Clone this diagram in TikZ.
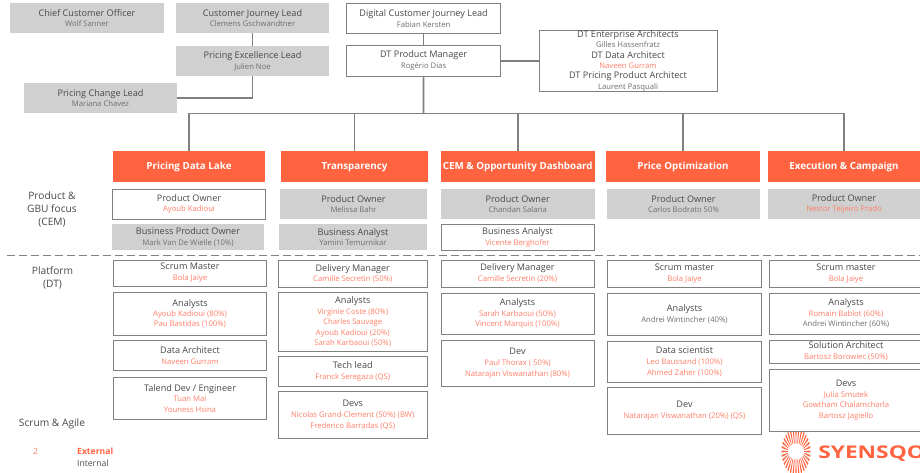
\documentclass[tikz,border=0pt]{standalone}
\usepackage{fontspec}
\setmainfont{Open Sans}
\definecolor{orng}{HTML}{FF6340}
\definecolor{lred}{HTML}{FF7F68}
\definecolor{dark}{HTML}{484848}
\definecolor{subg}{HTML}{6E6E6E}
\definecolor{gfill}{HTML}{D0D0D0}
\definecolor{edge}{HTML}{808080}
\newcommand\T[1]{{\fontsize{9.1}{10.8}\selectfont\color{dark}#1}}
\newcommand\G[1]{{\fontsize{7.7}{10.8}\selectfont\color{subg}#1}}
\newcommand\Rr[1]{{\fontsize{7.7}{10.8}\selectfont\color{lred}#1}}
\newcommand\bx[7][]{\node[#2,#1,minimum width={(#5-#3)*1pt},minimum height={(#6-#4)*1pt}] (#7) at ({(#3+#5)/2},{(#4+#6)/2})}
\tikzset{
  grey box/.style={fill=gfill,draw=none,inner sep=0pt,align=center,font=\fontsize{8}{10.8}\selectfont,execute at begin node={\rule{0pt}{8.4pt}}},
  white box/.style={fill=white,draw=edge,line width=0.9pt,inner sep=0pt,align=center,font=\fontsize{8}{10.8}\selectfont,execute at begin node={\rule{0pt}{8.4pt}}},
  tight/.style={font=\fontsize{8}{10.4}\selectfont},
  head box/.style={fill=orng,draw=none,inner sep=0pt,align=center,text=white,font=\fontsize{9.8}{10}\selectfont\bfseries,text height=8.5pt,text depth=1.5pt},
  link/.style={draw=edge,line width=1.7pt},
  side label/.style={align=center,inner sep=0pt,text=dark,font=\fontsize{10.2}{13}\selectfont},
}
\begin{document}
\begin{tikzpicture}[x=1pt,y=-1pt]
\useasboundingbox (0,0) rectangle (920,473);
\bx{grey box}{10}{3}{164}{33}{cco}{\T{Chief Customer Officer}\\\G{Wolf Sanner}};
\bx{grey box}{176}{3}{329}{33}{cjl}{\T{Customer Journey Lead}\\\G{Clemens Gschwandtner}};
\bx{grey box}{176}{46}{329}{76}{pel}{\T{Pricing Excellence Lead}\\\G{Julien Noe}};
\bx{grey box}{24}{83}{177}{113}{pcl}{\T{Pricing Change Lead}\\\G{Mariana Chavez}};
\bx{white box}{346.5}{3}{500.7}{33.5}{dcj}{\T{Digital Customer Journey Lead}\\\G{Fabian Kersten}};
\bx{white box}{346.5}{45.5}{500.7}{76}{dpm}{\T{DT Product Manager}\\\G{Rogério Dias}};
\bx[tight]{white box}{539}{30}{717}{91.5}{arch}{\T{DT Enterprise Architects}\\\G{Gilles Hassenfratz}\\\T{DT Data Architect}\\\Rr{Naveen Gurram}\\\T{DT Pricing Product Architect}\\\G{Laurent Pasquali}};
% headers
\bx{head box}{113}{151}{265}{182}{ha}{Pricing Data Lake};
\bx{head box}{281}{151}{428}{182}{hb}{Transparency};
\bx{head box}{441}{151}{594.5}{182}{hc}{CEM \& Opportunity Dashboard};
\bx{head box}{606}{151}{760}{182}{hd}{Price Optimization};
\bx{head box}{768}{151}{920}{182}{he}{Execution \& Campaign};
% connectors
\coordinate (bus) at (423.5,113.5);
\draw[link] (cjl.south) -- (pel.north);
\draw[link] (pel.south) |- (pcl.east);
\draw[link] (dcj.south) -- (dpm.north);
\draw[link] (dpm.east) -- (arch.west);
\draw[link] (dpm.south) -- (bus);
\draw[link] (ha.north) |- (bus) -| (he.north);
\draw[link] (hb.north) -- (hb.north |- bus);
\draw[link] (hc.north) -- (hc.north |- bus);
\draw[link] (hd.north) -- (hd.north |- bus);
% product owners
\bx{white box}{112.5}{189}{265.5}{219}{poa}{\T{Product Owner}\\\Rr{Ayoub Kadioui}};
\bx{grey box}{280}{189}{427}{219}{pob}{\T{Product Owner}\\\G{Melissa Bahr}};
\bx{grey box}{441}{189}{594.5}{219}{poc}{\T{Product Owner}\\\G{Chandan Salaria}};
\bx{grey box}{607}{189}{760}{219}{pod}{\T{Product Owner}\\\G{Carlos Bodrato 50\%}};
\bx{grey box}{768}{189}{920}{219}{poe}{\T{Product Owner}\\\Rr{Nestor Teijeiro Prado}};
\bx{grey box}{112}{224}{264}{250}{bpo}{\T{Business Product Owner}\\\G{Mark Van De Wielle (10\%)}};
\bx{grey box}{279}{224}{427}{250}{bab}{\T{Business Analyst}\\\G{Yamini Temurnikar}};
\bx{white box}{441}{224.5}{594}{250.5}{bac}{\T{Business Analyst}\\\Rr{Vicente Berghofer}};
% divider
\coordinate (dl) at (7,255);
\coordinate (dr) at (920,255);
\draw[edge,line width=0.9pt,dash pattern=on 8pt off 4pt] (dl) -- (dr);
% column 1
\bx{white box}{113.5}{260}{266.5}{286}{a1}{\T{Scrum Master}\\\Rr{Bola Jaiye}};
\bx[tight]{white box}{113.5}{292.5}{266.5}{335}{a2}{\T{Analysts}\\\Rr{Ayoub Kadioui (80\%)}\\\Rr{Pau Bastidas (100\%)}};
\bx{white box}{113.5}{340}{266.5}{370.5}{a3}{\T{Data Architect}\\\Rr{Naveen Gurram}};
\bx[tight]{white box}{113.5}{377.5}{266.5}{419}{a4}{\T{Talend Dev / Engineer}\\\Rr{Tuan Mai}\\\Rr{Youness Hsina}};
% column 2
\bx{white box}{278.5}{260}{427}{287.5}{b1}{\T{Delivery Manager}\\\Rr{Camille Secretin (50\%)}};
\bx[tight]{white box}{278.5}{292.5}{427}{351}{b2}{\T{Analysts}\\\Rr{Virginie Coste (80\%)}\\\Rr{Charles Sauvage}\\\Rr{Ayoub Kadioui (20\%)}\\\Rr{Sarah Karbaoui (50\%)}};
\bx{white box}{278.5}{356}{427}{386.5}{b3}{\T{Tech lead}\\\Rr{Franck Seregaza (QS)}};
\bx{white box}{278.5}{391.5}{427}{438}{b4}{\T{Devs}\\\Rr{Nicolas Grand-Clement (50\%) (BW)}\\\Rr{Frederico Barradas (QS)}};
% column 3
\bx{white box}{441}{260}{594}{287}{c1}{\T{Delivery Manager}\\\Rr{Camille Secretin (20\%)}};
\bx[tight]{white box}{441}{293}{594}{334}{c2}{\T{Analysts}\\\Rr{Sarah Karbaoui (50\%)}\\\Rr{Vincent Marquis (100\%)}};
\bx{white box}{441}{340}{594}{386}{c3}{\T{Dev}\\\Rr{Paul Thorax ( 50\%)}\\\Rr{Natarajan Viswanathan (80\%)}};
% column 4
\bx{white box}{607.5}{260.5}{761.5}{287.5}{d1}{\T{Scrum master}\\\Rr{Bola Jaiye}};
\bx{white box}{607.5}{293.5}{761.5}{335}{d2}{\T{Analysts}\\\G{Andrei Wintincher (40\%)}};
\bx{white box}{607.5}{341}{761.5}{382}{d3}{\T{Data scientist}\\\Rr{Leo Baussand (100\%)}\\\Rr{Ahmed Zaher (100\%)}};
\bx{white box}{607.5}{387.5}{761.5}{434.5}{d4}{\T{Dev}\\\Rr{Natarajan Viswanathan (20\%) (QS)}};
% column 5
\bx{white box}{769}{260.5}{923}{287.5}{e1}{\T{Scrum master}\\\Rr{Bola Jaiye}};
\bx[tight]{white box}{769}{293}{923}{334}{e2}{\T{Analysts}\\\Rr{Romain Bablot (60\%)}\\\G{Andrei Wintincher (60\%)}};
\bx{white box}{769}{340}{923}{363}{e3}{\T{Solution Architect}\\\Rr{Bartosz Borowiec (50\%)}};
\bx{white box}{769}{369.5}{923}{431}{e4}{\T{Devs}\\\Rr{Julia Smutek}\\\Rr{Gowtham Chalamcharla}\\\Rr{Bartosz Jagiello}};
% side labels
\node[side label] (l1) at (52,209) {Product \&\\GBU focus\\(CEM)};
\node[side label] (l2) at (52.5,278) {Platform\\(DT)};
\node[side label] (l3) at (52,424) {Scrum \& Agile};
\node[inner sep=0pt,text=lred,font=\fontsize{8.6}{10}\selectfont] (l4) at (35.5,451) {2};
\node[anchor=west,inner sep=0pt,text=orng,font=\fontsize{8.6}{10}\selectfont\bfseries] (l5) at (77,451.5) {External};
\node[anchor=west,inner sep=0pt,text=dark,font=\fontsize{8.6}{10}\selectfont] (l6) at (77,463) {Internal};
% logo
\begin{scope}
\clip (770,432) rectangle (920,473);
\foreach \a in {0,11.25,...,348.75}{
  \fill[orng,shift={(796,451.5)}] ({14.5*cos(\a-2.6)},{23*sin(\a-2.6)}) -- ({14.5*cos(\a+2.6)},{23*sin(\a+2.6)}) -- (\a+2:8) -- (\a-2:8) -- cycle;
}
\node[anchor=base west,inner sep=0pt,text=orng,font=\fontsize{17.5}{18}\selectfont\bfseries,xscale=1.3] (logo) at (818,458.5) {SYENSQO};
\end{scope}
\end{tikzpicture}
\end{document}
